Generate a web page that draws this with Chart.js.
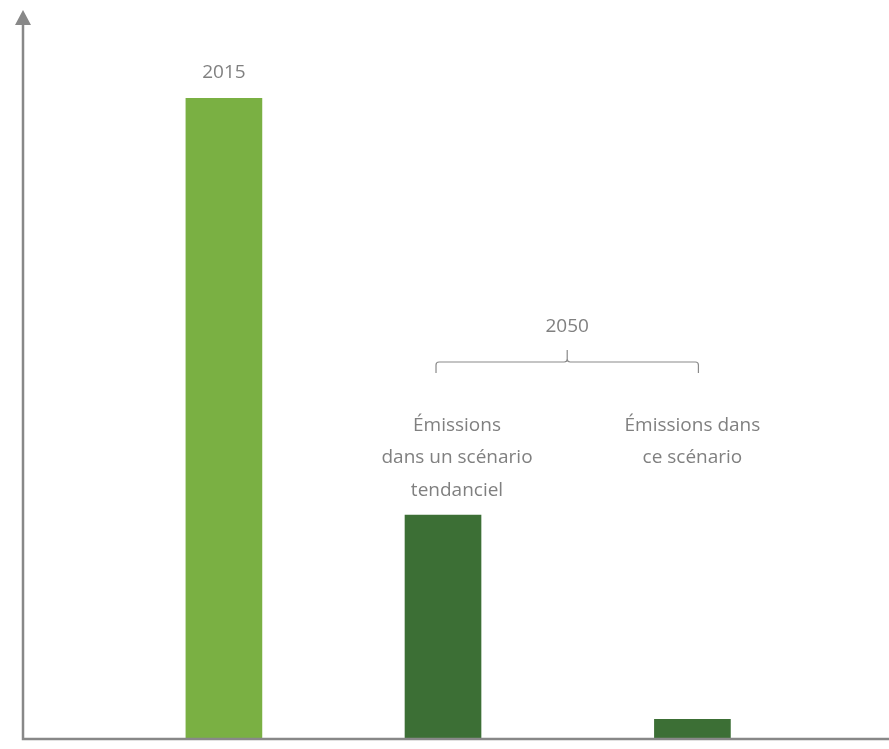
<!DOCTYPE html>
<html>
<head>
<meta charset="utf-8">
<script src="https://cdn.jsdelivr.net/npm/chart.js@4"></script>
<style>
	html, body { margin: 0; padding: 0; background: #fff; }
	#box { width: 889px; height: 749px; }
</style>
</head>
<body>
<div id="box"><canvas id="myChart"></canvas></div>
<script>
// données
const labels = [["2015"], ["Émissions", "dans un scénario", "tendanciel"], ["Émissions dans", "ce scénario"]];
const positions = [23.2, 48.5, 77.3];
const values = [87.9, 30.7, 2.7];
const colors = ["#7ab043", "#3c6f35"];
const groupLabel = "2050";

const gray = "#808080";
const font = "19px 'Open Sans', sans-serif";

// axes avec flèche + textes + accolade
const drawing = {
	id: "drawing",
	afterDatasetsDraw(chart) {
		const ctx = chart.ctx;
		const a = chart.chartArea;
		const bars = chart.getDatasetMeta(0).data;

		ctx.save();
		ctx.strokeStyle = "#888888";
		ctx.fillStyle = "#888888";
		ctx.lineWidth = 2.5;
		ctx.beginPath();
		ctx.moveTo(a.left, a.top + 12);
		ctx.lineTo(a.left, a.bottom);
		ctx.lineTo(a.right, a.bottom);
		ctx.stroke();
		ctx.beginPath();
		ctx.moveTo(a.left, a.top);
		ctx.lineTo(a.left - 8, a.top + 15);
		ctx.lineTo(a.left + 8, a.top + 15);
		ctx.closePath();
		ctx.fill();

		ctx.font = font;
		ctx.fillStyle = gray;
		ctx.textAlign = "center";
		ctx.textBaseline = "middle";
		const offsets = [0, 14, 0];
		for (let i = 0; i < bars.length; i++) {
			let lines = labels[i];
			let x = bars[i].x + offsets[i];
			let y0 = (i == 0) ? bars[i].y - 26 : bars[1].y - 25 - (labels[1].length - 1) * 32.5;
			for (let j = 0; j < lines.length; j++) {
				ctx.fillText(lines[j], x, y0 + j * 32.5);
			}
		}

		// accolade 2050
		let x1 = bars[1].x - 7;
		let x2 = bars[2].x + 6;
		let mid = (x1 + x2) / 2;
		let yb = 362;
		ctx.strokeStyle = "#8a8a8a";
		ctx.lineWidth = 1.2;
		ctx.beginPath();
		ctx.moveTo(x1, yb + 11);
		ctx.lineTo(x1, yb + 3);
		ctx.quadraticCurveTo(x1, yb, x1 + 3, yb);
		ctx.lineTo(mid - 3, yb);
		ctx.quadraticCurveTo(mid, yb, mid, yb - 3);
		ctx.lineTo(mid, yb - 12);
		ctx.moveTo(mid, yb - 3);
		ctx.quadraticCurveTo(mid, yb, mid + 3, yb);
		ctx.lineTo(x2 - 3, yb);
		ctx.quadraticCurveTo(x2, yb, x2, yb + 3);
		ctx.lineTo(x2, yb + 11);
		ctx.stroke();
		ctx.fillText(groupLabel, mid, 327);
		ctx.restore();
	}
};

const ctx = document.getElementById("myChart");

new Chart(ctx, {
	type: "bar",
	data: {
		datasets: [{
			data: positions.map((p, i) => ({ x: p, y: values[i] })),
			backgroundColor: [colors[0], colors[1], colors[1]],
			barThickness: 76,
			borderWidth: 0
		}]
	},
	options: {
		responsive: true,
		maintainAspectRatio: false,
		animation: false,
		layout: { padding: { left: 23, right: 0, top: 10, bottom: 10 } },
		plugins: { legend: { display: false }, tooltip: { enabled: false } },
		scales: {
			x: { type: "linear", min: 0, max: 100, offset: false, display: false },
			y: { min: 0, max: 100, display: false }
		}
	},
	plugins: [drawing]
});
</script>
</body>
</html>
